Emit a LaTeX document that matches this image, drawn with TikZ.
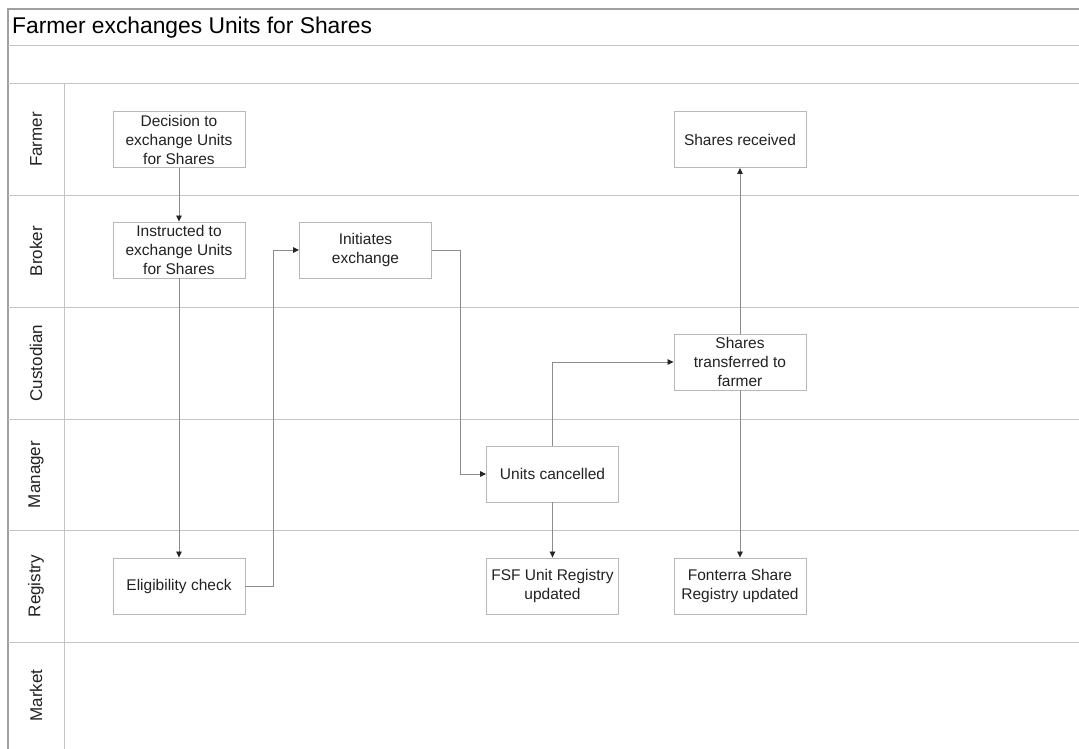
\documentclass[tikz,border=0pt]{standalone}
\usepackage{fontspec}
\setmainfont{Liberation Sans}
\usetikzlibrary{arrows.meta}
\definecolor{framegray}{HTML}{A0A0A0}
\definecolor{lanegray}{HTML}{C4C4C4}
\definecolor{boxgray}{HTML}{B8B8B8}
\definecolor{flowgray}{HTML}{8C8C8C}
\definecolor{inkgray}{HTML}{222222}
\tikzset{
  stepbox/.style={draw=boxgray, line width=0.9pt, fill=white, minimum width=132pt,
    minimum height=56pt, inner sep=0pt, align=center, text=inkgray,
    font=\fontsize{15.5}{19}\selectfont},
  lanelabel/.style={rotate=90, text=inkgray, font=\fontsize{17}{20}\selectfont},
  laneline/.style={draw=lanegray, line width=1pt},
  flow/.style={draw=flowgray, line width=0.8pt,
    -{Triangle[length=6pt,width=5.5pt,color=black!85]}},
}
\begin{document}
\begin{tikzpicture}[x=1pt,y=-1pt]
\useasboundingbox (0,0) rectangle (1079,749);
\fill[white] (0,0) rectangle (1079,749);

% pool frame, title row and empty header row
\draw[framegray, line width=1.2pt] (1079,9) -- (8,9) -- (8,749);
\draw[laneline] (8,46) -- (1079,46);
\draw[laneline] (8,84) -- (1079,84);
\node[anchor=west, inner sep=0pt, text=black, font=\fontsize{22.8}{26}\selectfont] (title) at (12,28) {Farmer exchanges Units for Shares};

% lane header column and lane separators
\draw[laneline] (64,84) -- (64,749);
\foreach \y in {195,307,419,530,642}
  \draw[laneline] (8,\y) -- (1079,\y);

\node[lanelabel] (lFarmer)    at (36,139.5) {Farmer};
\node[lanelabel] (lBroker)    at (36,251)   {Broker};
\node[lanelabel] (lCustodian) at (36,363)   {Custodian};
\node[lanelabel] (lManager)   at (36,474.5) {Manager};
\node[lanelabel] (lRegistry)  at (36,586)   {Registry};
\node[lanelabel] (lMarket)    at (36,695.5) {Market};

% process steps
\node[stepbox] (decide) at (179,139.5) {Decision to\\exchange Units\\for Shares};
\node[stepbox] (instr)  at (179,250)   {Instructed to\\exchange Units\\for Shares};
\node[stepbox] (init)   at (365.5,250) {Initiates\\exchange};
\node[stepbox] (recv)   at (740,139.5) {Shares received};
\node[stepbox] (trans)  at (740,362)   {Shares\\transferred to\\farmer};
\node[stepbox] (cancel) at (552.5,474) {Units cancelled};
\node[stepbox] (elig)   at (179,586)   {Eligibility check};
\node[stepbox] (fsf)    at (552.5,586) {FSF Unit Registry\\updated};
\node[stepbox] (fonterra) at (740,586) {Fonterra Share\\Registry updated};

% flow
\draw[flow] (decide) -- (instr);
\draw[flow] (instr) -- (elig);
\draw[flow] (elig.east) -- ++(28,0) |- (init.west);
\draw[flow] (init.east) -- ++(28,0) |- (cancel.west);
\draw[flow] (cancel.north) |- (trans.west);
\draw[flow] (cancel) -- (fsf);
\draw[flow] (trans) -- (recv);
\draw[flow] (trans) -- (fonterra);
\end{tikzpicture}
\end{document}
